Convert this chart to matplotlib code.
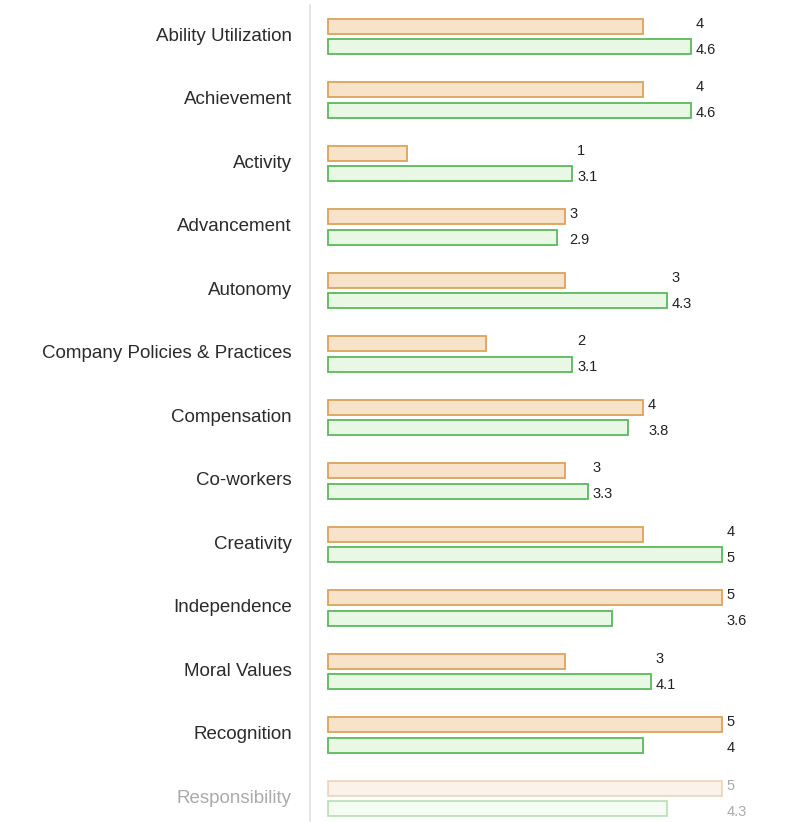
import numpy as np
import matplotlib
matplotlib.use("Agg")
import matplotlib.pyplot as plt

plt.rcParams['font.family'] = ['Liberation Sans', 'DejaVu Sans']

categories = ["Ability Utilization", "Achievement", "Activity", "Advancement",
              "Autonomy", "Company Policies & Practices", "Compensation",
              "Co-workers", "Creativity", "Independence", "Moral Values",
              "Recognition", "Responsibility"]
first_vals = [4, 4, 1, 3, 3, 2, 4, 3, 4, 5, 3, 5, 5]
second_vals = [4.6, 4.6, 3.1, 2.9, 4.3, 3.1, 3.8, 3.3, 5, 3.6, 4.1, 4, 4.3]

orange_face = "#f7e2ca"
orange_edge = "#dca35c"
green_face = "#e8f8e5"
green_edge = "#5cb85c"

fig = plt.figure(figsize=(7.89, 8.22), dpi=100)
ax = fig.add_axes([310 / 789, 0, (789 - 310) / 789, 1 - 5 / 822])

y = np.arange(len(categories))
off = 0.162
h = 0.236

for i, cat in enumerate(categories):
    a = 0.4 if i == len(categories) - 1 else 1.0
    ax.barh(y[i] - off, first_vals[i], height=h, left=0, color=orange_face,
            edgecolor=orange_edge, linewidth=1.3, alpha=a)
    ax.barh(y[i] + off, second_vals[i], height=h, left=0, color=green_face,
            edgecolor=green_edge, linewidth=1.3, alpha=a)
    xm = max(first_vals[i], second_vals[i]) + 0.06
    tc = "#222222" if a == 1.0 else "#aaaaaa"
    ax.text(xm, y[i] - off - 0.04, "{:g}".format(first_vals[i]), fontsize=10.5,
            color=tc, va="center", ha="left")
    ax.text(xm, y[i] + off + 0.05, "{:g}".format(second_vals[i]), fontsize=10.5,
            color=tc, va="center", ha="left")
    ax.text(-0.23 - 18 / 78.8, y[i], cat, fontsize=13.5,
            color="#2b2b2b" if a == 1.0 else "#aaaaaa",
            ha="right", va="center")

# top pixel 5 -> row -0.495, bottom pixel 822 -> row 12.37
ax.set_ylim(12.37, -0.495)
ax.set_xlim(-0.23, (789 - 310) / 78.8 - 0.23)
ax.set_xticks([])
ax.set_yticks([])
for s in ["top", "right", "bottom"]:
    ax.spines[s].set_visible(False)
ax.spines["left"].set_color("#e0e0e0")
ax.spines["left"].set_linewidth(1.2)

fig.savefig("out.png", dpi=100)
